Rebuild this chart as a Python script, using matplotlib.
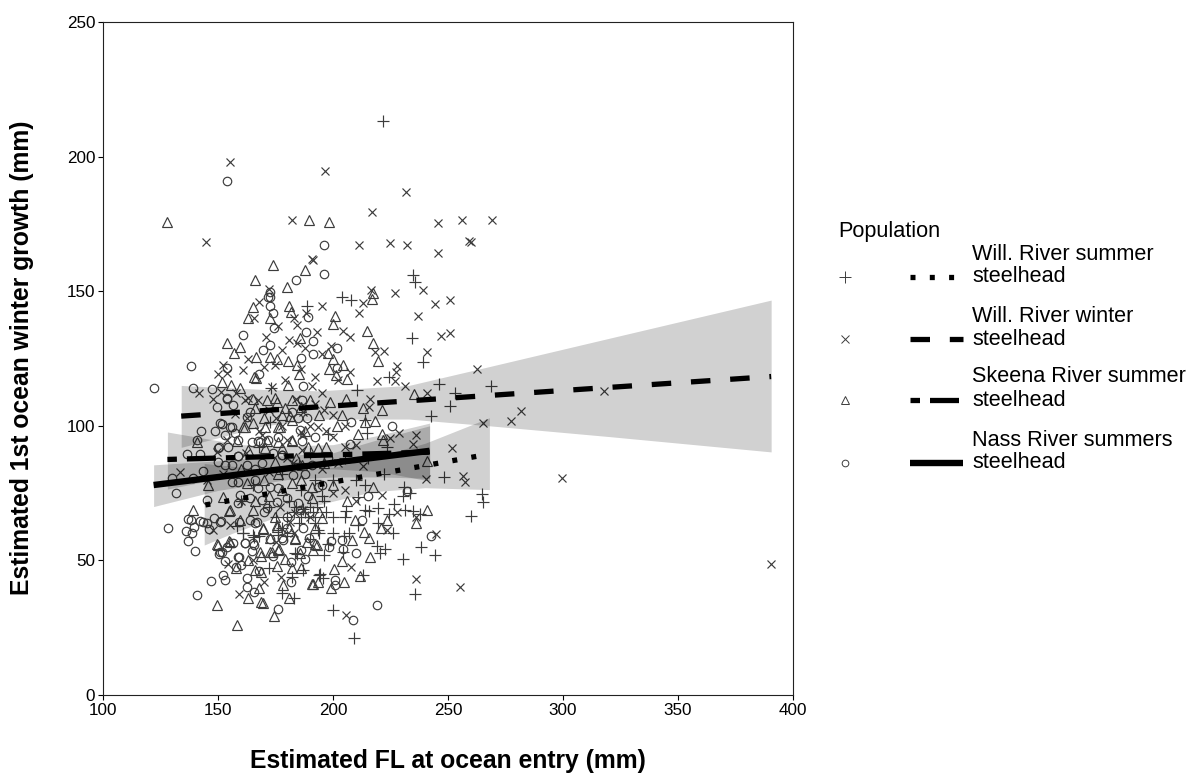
import matplotlib
matplotlib.use('Agg')
import matplotlib.pyplot as plt
from matplotlib.lines import Line2D
import numpy as np

plt.rcParams['font.family'] = ['Liberation Sans', 'DejaVu Sans']
plt.rcParams['lines.scale_dashes'] = False

# points: (FL at ocean entry, 1st ocean winter growth)
will_summer = [(221.6,213.2),(234.9,156),(235.8,153.5),(204,148),(208,146.7),(188.6,144.5),(234.2,132.5),
    (239.3,123.8),(224.5,118),(246.2,115.7),(268.6,114.9),(210.3,113.4),(173,114),(253,112.3),(251,107.5),
    (242.5,103.5),(213.9,102.2),(172.6,101.5),(214.9,97.5),(223.3,92.2),(248.3,81.1),(264.9,74.6),(265.3,71.8),
    (259.9,66.4),(231,77.4),(230.3,73.9),(233.5,75.1),(226.5,71),(231.3,68.9),(234.9,68.5),(237.8,67.4),
    (224.5,67.4),(219.7,69.6),(205.7,68.5),(211,73.7),(213.9,68.7),(215.8,68.5),(211,63.1),(219.7,64),
    (204.8,59.1),(238.1,55.1),(244.3,52.1),(230.3,50.5),(222.6,54.1),(219,55.3),(220.4,52.9),(204.5,53.2),
    (194.3,44.9),(213.2,44.6),(235.7,37.5),(195.8,43.3),(199.9,31.7),(209.1,21),(193.9,44.6),(187.1,46.6),
    (184.2,52.5),(176.2,61.3),(176.2,59.4),(158.4,62.8),(161,60.3),(165.7,58.8),(191.5,68.1),(193.6,61.3),
    (161,60.1),(165.4,59.5),(183.5,52.7),(185,86),(190,70),(195,74),(200,66),(200,60),(205,66),(196,52),
    (190,58),(180,59),(185,64),(192,64),(168,59),(175,66),(178,62),(165,78),(172,70),(178,82),(160,72),
    (190,90),(198,97),(205,88),(200,80),(196,72),(210,80),(215,88),(192,80),(186,76),(168,92),(183,68),
    (187,69),(189,66),(181,72),(198,56),(207,60),(214,78),(222,82),(226,60),(182,44),(172,47),(178,38),(183,36),
    (188,68),(186,66),(184,70),(193,70),(197,68),(180,66),(194,60)]

will_winter = [(155.2,198),(182,176.4),(144.6,168.4),(190.9,162),(172.2,150.8),(196.5,194.6),(231.6,186.7),
    (217,179.4),(245.7,175.4),(255.9,176.6),(269.1,176.3),(211.4,167.2),(224.8,167.9),(232,167.2),(259.3,168.6),
    (260,168.4),(245.7,164.1),(191.2,161.7),(239.3,150.6),(226.8,149.4),(216.4,150.4),(212.9,145.7),(244.3,145.1),
    (251,146.7),(195.4,144.5),(237.1,140.8),(211.4,141.8),(246.8,133.4),(251,134.6),(204.5,135.3),(207.5,132.9),
    (192.9,134.7),(199,129.6),(218.3,127.3),(222.3,127.8),(241,127.6),(195.1,126.5),(207.4,120.1),(202.3,117),
    (228,122.2),(227.4,120.1),(262.8,121.1),(219,116.8),(227,116.8),(231.3,114.8),(241,112.3),(216.1,110.1),
    (215.8,106.8),(228.8,97.5),(236.2,96.6),(224.8,95.3),(234.9,93.2),(251.6,91.9),(265.3,101.2),(240.6,80.1),
    (256.7,81.5),(257.3,79.3),(228,68.1),(236.2,66.2),(221.2,74.3),(244.8,59.8),(223.6,61.3),(207.8,47.7),
    (236.1,43.2),(255.2,40.1),(205.7,29.8),(390.5,48.5),(299.5,80.5),(318,113),(277.4,101.8),(281.7,105.5),
    (165.8,139.9),(188.3,142),(184.5,137.4),(181,131.9),(184.2,130.6),(187.8,128.8),(174.8,122.6),(152.3,122.6),
    (150.1,119.1),(153.8,119.7),(160.7,120.9),(141.9,112.3),(151.3,112.7),(173.3,114.3),(190.7,114.8),(161.7,109.6),
    (157.4,104.4),(153.8,94.7),(186.3,97.8),(149.7,90.1),(133.5,82.7),(147.7,61.3),(154.5,48.8),(177.4,43.9),
    (159.1,37.7),(163.2,110.2),(167.5,109.6),(162.5,102.8),(193.6,99.7),(187.1,96.6),(179.9,94.8),(169,96.6),
    (186.4,91.1),(182.8,86.1),(177,70),(183.5,67.5),(187.1,68.8),(181.3,64.4),(168,146),(171,133),(176,137),
    (178,128),(183,140),(186,121),(179,117),(192,118),(195,112),(163,125),(170,122),(158,112),(148,110),(187,105),
    (196,106),(200,104),(205,100),(210,93),(213,85),(205,92),(190,100),(175,103),(168,98),(162,90),(152,82),
    (145,80),(180,88),(172,83),(195,84),(200,75),(205,76),(210,72),(190,66),(183,60),(175,57),(165,50),(170,42),
    (160,72),(155,63),(192,108),(197,98),(184,110),(178,100),(172,106),(200,96),(202,86)]

skeena_summer = [(127.7,175.8),(189.6,176.4),(174,159.7),(187.9,157.9),(166,154),(179.9,151.6),(198.4,175.8),
    (217.2,149.5),(216.8,147.2),(200.9,140.9),(199.9,138),(214.9,135.3),(217.5,130.6),(219.4,124.1),(198,126.9),
    (200.2,124.8),(204.5,122.6),(198.3,121),(206.2,117.4),(201.3,118.9),(235.4,111.9),(205.7,110),(198.7,109),
    (212.9,106.5),(221.4,105.9),(203.8,104),(213.9,101.5),(218.3,101.9),(201.9,100),(210.7,96.8),(221.1,97.1),
    (221.6,94.9),(240.7,86.9),(241,68.7),(236.1,64),(223.6,65),(217.5,77.1),(206.2,72.1),(209.6,65),(220.7,62.2),
    (213.6,60.4),(215.7,58.5),(208.3,57.6),(216.1,51.4),(204,49.8),(200.4,46.9),(211.7,44.2),(204.8,42.1),(199,39.9),
    (193.6,42.1),(191.4,41.2),(154,130.6),(159.6,129.2),(157.1,127.2),(165.4,144.2),(162.9,139.9),(172.6,140.2),
    (181,144.5),(181.6,142.1),(185.7,132.5),(166.5,125.4),(172.6,125.7),(175.8,124.7),(180.6,124.2),(184.2,122.6),
    (185.2,119.4),(165.8,118),(166.5,117.7),(151.6,116.1),(155.7,115.2),(159.6,114.2),(180.6,115.2),(165.4,110),
    (175.5,109),(182,109.6),(161.7,99.4),(177,99.4),(181.3,103.6),(140.7,94.1),(158.1,94.4),(171.1,94.4),(176.2,94.1),
    (182,94.7),(145.8,78),(139.3,68.7),(152,73.7),(154.9,68.5),(169.4,61.7),(175.8,62.5),(149.7,56.1),(154.9,57.2),
    (168.6,51.6),(173.6,53.2),(176.7,54.4),(183.5,58.1),(179.1,50.7),(175.5,47.9),(182,47),(186.3,47),(191.4,53.9),
    (192.2,56.2),(163.2,50.3),(157.7,47),(166.1,46.6),(168.6,45.8),(178.4,40.9),(168,39.6),(162.9,36.2),(149.7,33.4),
    (168.6,34.7),(169.7,34),(181,36.2),(174.3,29.3),(158.4,26),(190.7,41.2),(166.1,106.5),(171.2,109.6),(174.8,110.2),
    (179.1,106.5),(190,109.6),(161,99.7),(176.2,99.7),(170.4,99.7),(182,102.2),(182,94.2),(189.3,92.3),(163.2,91.1),
    (170.4,91.7),(177.7,91.7),(193.6,91.7),(174.8,86.7),(186.4,85.5),(162.5,78.6),(182,78.6),(190.7,77.4),(190.7,73.1),
    (155.2,68.7),(165.4,68.7),(159.6,65),(174.8,66.3),(195,65.7),(169.7,61.9),(175.5,63.2),(183.5,58.2),(172.6,58.2),
    (150.1,55.8),(155.2,57),(192.9,55.8),(188.6,57),(168.3,53.3),(176.2,53.9),(172.6,53.3),(185.7,52.7),
    (186,107),(194,104),(178,104),(170,103),(165,101),(188,98),(197,92),(184,88),(176,82),(170,80),(196,86),
    (200,78),(186,80),(178,76),(194,68),(172,74),(166,72),(160,84),(192,62),(181,62)]

nass_summer = [(153.8,191),(183.8,154),(172.6,149.8),(171.9,148),(195.9,167),(196.2,156.3),(191.4,131.6),(201.6,129),
    (191.2,126.5),(201.9,121.3),(207.7,101.5),(225.8,100.1),(207.4,93.2),(232.3,75.9),(215,74),(212.4,65.1),(242.5,59.2),
    (203.8,57.7),(199,57.3),(198.3,55.1),(210,52.9),(204.5,54.1),(200.9,42.7),(200.9,40.9),(219,33.3),(208.6,27.9),
    (122.2,114.2),(138.4,122.2),(160.7,133.7),(172.6,148),(172.6,144.5),(173.7,142),(189,140.5),(174.5,136.2),(188.1,135),
    (172.6,130),(169.4,128.2),(186.1,125.3),(153.8,121.6),(168,119.4),(139,114),(147.5,113.7),(186.8,114.9),(153.8,110.1),
    (156.7,107.7),(149.7,106.8),(162.5,103.4),(151.6,100.5),(148.7,98.2),(142.6,98.1),(155.9,99.7),(140.9,94.7),
    (164.7,93.8),(168.3,94.1),(150.4,92.2),(136.4,89.7),(142.2,89.7),(150.1,86.7),(158.8,88.9),(155.9,85.4),(177.7,89.2),
    (143.3,83.2),(129.9,80.7),(139.3,80.7),(131.7,75.1),(145.3,72.6),(128.4,62.1),(136.8,65.4),(138.3,65.1),(139.6,62.5),
    (135.9,60.9),(138.6,60.3),(136.8,57.3),(139.9,53.6),(142.2,64.6),(143.6,64.4),(145.3,63.8),(146.1,61.5),(148.4,65.6),
    (151.3,64.6),(159.3,64.4),(166.1,64),(153.8,54.8),(156.7,56.3),(161.7,56.3),(165.7,55.9),(164.7,53.5),(150.4,52.5),
    (151.6,53.2),(172.6,57.9),(173.8,51.6),(178.1,57.6),(181.7,49.5),(186.1,54),(189.6,58.4),(187.8,50.7),(159.3,51.4),
    (160,48.3),(153,49.8),(157.7,47.5),(168,46.1),(181.7,42.1),(162.7,43.6),(152.3,44.7),(153,42.9),(146.8,42.3),
    (162.7,40.2),(165.8,38.4),(141,37),(176.1,32.1),(153.8,110.2),(186.4,109.6),(150.9,101),(155.2,99.7),(157.4,97.3),
    (153,96.6),(184.9,102.8),(188.6,102.8),(185.7,98.5),(158.8,94.8),(167.5,94.2),(171.9,94.8),(186.4,94.2),(150.1,91.7),
    (154.5,92.3),(158.9,88.6),(177.7,89.2),(153,85.5),(162.5,85.5),(169,86.1),(190.7,85.5),(156,79.3),(158.8,79.3),
    (166.1,79.9),(167.5,76.8),(172.6,77.4),(176.2,76.8),(182.8,81.7),(193.6,77.4),(159.6,74.3),(163.9,73.1),(169,72.5),
    (175.5,71.8),(179.9,73.1),(184.9,71.2),(158.8,71.2),(171.2,69.4),(150.9,64.4),(163.9,65),(166.8,64.4),(179.9,66.3),
    (185.7,68.8),(187.1,61.9),(177.7,58.2),(165.4,56.4),(161.7,56.4),(150.9,53.3),(158.9,51.4),
    (182,105),(176,96),(192,96),(198,88),(174,90),(166,84),(188,82),(195,78),(170,68),(180,62),(189,74),(164,105)]

# fitted lines: x ends, y ends
summer_line = ([144.5, 268], [70.6, 89.5])
winter_line = ([134, 390.5], [103.6, 118.3])
skeena_line = ([128, 242], [87.5, 90.2])
nass_line = ([122, 242], [78, 90.7])

# confidence bands: x, lower, upper
summer_band = ([144, 156, 174, 182, 200, 217, 240, 268],
               [55.7, 60, 65.7, 68, 72, 75.5, 77, 76.3],
               [86, 85, 83.3, 83.3, 84.5, 88, 93.5, 103])
winter_band = ([134, 170, 194, 233, 268, 320, 390.5],
               [92, 100, 102.5, 102.5, 100, 96, 90.3],
               [115, 113.5, 113, 115, 122, 132.5, 146.7])
skeena_band = ([128, 160, 180, 200, 220, 242],
               [76.5, 82, 84, 84, 83, 79.5],
               [97.7, 93, 92.5, 93, 96.5, 101])
nass_band = ([122, 150, 180, 200, 220, 242],
             [70, 76, 80, 81, 81, 80.5],
             [85.5, 87, 89, 90, 95, 100])

legend_title = 'Population'
legend_names = ['Will. River summer\nsteelhead', 'Will. River winter\nsteelhead',
                'Skeena River summer\nsteelhead', 'Nass River summers\nsteelhead']

W, H = 1190, 775
px = 0.72  # points per pixel at dpi 100
dot = (0, (5*px, 14.3*px))
dash = (0, (19.5*px, 19.8*px))
twodash = (0, (9.5*px, 10*px, 29*px, 10*px))

fig = plt.figure(figsize=(W/100, H/100), dpi=100)
ax = fig.add_axes([103/W, 1-695/H, 690/W, 673/H])

mark = '#3c3c3c'
series = [(will_summer, '+', 8.8), (will_winter, 'x', 6.4), (skeena_summer, '^', 7.5), (nass_summer, 'o', 6.1)]
for pts, m, ms in series:
    a = np.array(pts)
    ax.plot(a[:, 0], a[:, 1], ls='none', marker=m, ms=ms, mfc='none', mec=mark, mew=0.85, zorder=2)

for band in [summer_band, winter_band, skeena_band, nass_band]:
    ax.fill_between(band[0], band[1], band[2], color='black', alpha=0.18, lw=0, zorder=3)

ax.plot(*summer_line, color='black', lw=3.8, ls=dot, zorder=4)
ax.plot(*winter_line, color='black', lw=3.8, ls=dash, zorder=4)
ax.plot(*skeena_line, color='black', lw=3.8, ls=twodash, zorder=4)
ax.plot(*nass_line, color='black', lw=4.6, solid_capstyle='butt', zorder=4)

ax.set_xlim(100, 400)
ax.set_ylim(0, 250)
ax.set_xticks([100, 150, 200, 250, 300, 350, 400])
ax.set_yticks([0, 50, 100, 150, 200, 250])
ax.tick_params(labelsize=12.3, length=3.5, width=0.8, pad=2)
for s in ax.spines.values():
    s.set_linewidth(0.8)
    s.set_color('#222222')

fig.text(448/W, 1-761/H, 'Estimated FL at ocean entry (mm)', fontsize=17.8, fontweight='bold', ha='center', va='center')
fig.text(22/W, 1-358/H, 'Estimated 1st ocean winter growth (mm)', fontsize=17.8, fontweight='bold',
         rotation=90, ha='center', va='center')

# legend
fig.text(838/W, 1-231/H, legend_title, fontsize=15.6, va='center')
key_y = [277, 339, 400, 463]
key_marks = [('+', 8), ('x', 5.2), ('^', 6.2), ('o', 4.8)]
key_styles = [(dot, 3.8), (dash, 3.8), (twodash, 3.8), ('-', 4.6)]
for i in range(4):
    y = 1 - key_y[i]/H
    fig.add_artist(Line2D([845/W], [y], ls='none', marker=key_marks[i][0], ms=key_marks[i][1],
                          mfc='none', mec=mark, mew=0.7))
    fig.add_artist(Line2D([910/W, 963/W], [y, y], color='black', ls=key_styles[i][0], lw=key_styles[i][1],
                          solid_capstyle='butt'))
    line1, line2 = legend_names[i].split('\n')
    fig.text(972/W, 1-(key_y[i]-23)/H, line1, fontsize=15.6, va='center')
    fig.text(972/W, y, line2, fontsize=15.6, va='center')

fig.savefig('out.png', dpi=100)
